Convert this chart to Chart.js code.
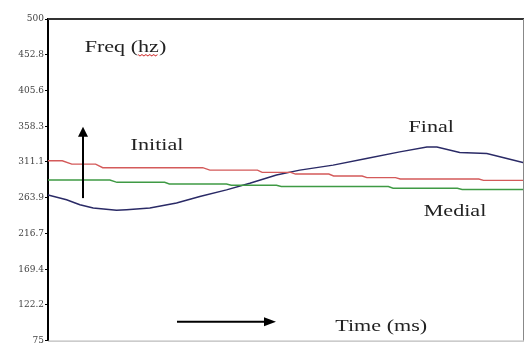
<!DOCTYPE html>
<html>
<head>
<meta charset="utf-8">
<script src="https://cdn.jsdelivr.net/npm/chart.js@4/dist/chart.umd.min.js"></script>
<style>
  html, body { margin: 0; padding: 0; background: #fff; }
  #wrap { width: 526px; height: 347px; }
</style>
</head>
<body>
<div id="wrap"><canvas id="c" width="526" height="347"></canvas></div>
<script>
// Pitch contours (Hz) over normalised time (ms)
const tickValues = [75, 122.2, 169.4, 216.7, 263.9, 311.1, 358.3, 405.6, 452.8, 500];
const tickLabels = ['75', '122.2', '169.4', '216.7', '263.9', '311.1', '358.3', '405.6', '452.8', '500'];

const initialTime = [0, 3, 5, 10, 11.5, 32.5, 34, 44, 45, 51, 52, 59, 60, 66, 67, 73, 74, 90.5, 91.5, 100];
const initialHz   = [312.6, 312.6, 308.2, 308.2, 303.5, 303.5, 300.3, 300.3, 297.3, 297.3, 295.1, 295.1, 292.5, 292.5, 290.4, 290.4, 288.5, 288.5, 286.8, 286.8];

const medialTime = [0, 13, 14.5, 24.5, 25.5, 37.5, 38.5, 48, 49, 71.5, 72.5, 86, 87, 100];
const medialHz   = [287.2, 287.2, 284.2, 284.2, 282.0, 282.0, 280.3, 280.3, 278.6, 278.6, 276.4, 276.4, 274.7, 274.7];

const finalTime = [0, 3.9, 6.7, 9.5, 14.4, 16.5, 21.4, 27.0, 31.9, 37.5, 42.4, 48.0, 52.9, 59.9, 66.9, 73.9, 79.6, 81.7, 86.5, 92.2, 96.4, 100];
const finalHz   = [267.6, 261.1, 254.5, 250.2, 247.2, 248.0, 250.2, 256.8, 265.5, 274.2, 282.9, 293.8, 300.3, 306.9, 315.6, 324.4, 330.9, 330.9, 323.5, 322.2, 315.6, 310.0];

// Text labels and arrows placed in data coordinates
const notes = [
  { text: 'Freq (hz)', t: 7.7, hz: 462, align: 'left' },
  { text: 'Initial',   t: 22.9, hz: 333, align: 'center' },
  { text: 'Final',     t: 80.5, hz: 357, align: 'center' },
  { text: 'Medial',    t: 85.5, hz: 245, align: 'center' },
  { text: 'Time (ms)', t: 70, hz: 94, align: 'center' }
];
const upArrow = { t: 7.35, from: 263.3, to: 357.5 };
const rightArrow = { hz: 100, from: 27.1, to: 47.9 };

const pts = (xs, ys) => xs.map((x, i) => ({ x: x, y: ys[i] }));

const frame = {
  id: 'frame',
  afterDatasetsDraw(chart) {
    const { ctx, chartArea: a, scales } = chart;
    const xs = scales.x, ys = scales.y;
    ctx.save();
    // plot frame: heavy top, light right and bottom
    ctx.strokeStyle = '#333';
    ctx.lineWidth = 2;
    ctx.beginPath(); ctx.moveTo(a.left, a.top); ctx.lineTo(a.right, a.top); ctx.stroke();
    ctx.strokeStyle = '#888';
    ctx.lineWidth = 1;
    ctx.beginPath(); ctx.moveTo(a.right - 0.5, a.top); ctx.lineTo(a.right - 0.5, a.bottom); ctx.stroke();
    ctx.strokeStyle = '#aaa';
    ctx.beginPath(); ctx.moveTo(a.left, a.bottom + 0.5); ctx.lineTo(a.right, a.bottom + 0.5); ctx.stroke();

    // annotations
    ctx.fillStyle = '#222';
    ctx.font = '17px "Liberation Serif", serif';
    ctx.textBaseline = 'middle';
    notes.forEach(n => {
      const px = xs.getPixelForValue(n.t), py = ys.getPixelForValue(n.hz);
      const w = ctx.measureText(n.text).width * 1.3;
      const left = n.align === 'center' ? px - w / 2 : px;
      ctx.save();
      ctx.translate(left, py);
      ctx.scale(1.3, 1);
      ctx.textAlign = 'left';
      ctx.fillText(n.text, 0, 0);
      // wavy spell-check underline under "hz"
      if (n.text === 'Freq (hz)') {
        const start = ctx.measureText('Freq (').width;
        const end = ctx.measureText('Freq (hz').width;
        ctx.strokeStyle = '#d03030';
        ctx.lineWidth = 0.8;
        ctx.beginPath();
        for (let x = start, k = 0; x <= end; x += 1.5, k++) {
          const yy = 7 + (k % 2 ? 1.2 : -0.2);
          if (k === 0) ctx.moveTo(x, yy); else ctx.lineTo(x, yy);
        }
        ctx.stroke();
      }
      ctx.restore();
    });

    // arrows
    ctx.strokeStyle = '#000';
    ctx.fillStyle = '#000';
    ctx.lineWidth = 2;
    const ux = xs.getPixelForValue(upArrow.t);
    const uy0 = ys.getPixelForValue(upArrow.from), uy1 = ys.getPixelForValue(upArrow.to);
    ctx.beginPath(); ctx.moveTo(ux, uy0); ctx.lineTo(ux, uy1 + 8); ctx.stroke();
    ctx.beginPath(); ctx.moveTo(ux, uy1); ctx.lineTo(ux - 5, uy1 + 10); ctx.lineTo(ux + 5, uy1 + 10); ctx.closePath(); ctx.fill();
    const ry = ys.getPixelForValue(rightArrow.hz);
    const rx0 = xs.getPixelForValue(rightArrow.from), rx1 = xs.getPixelForValue(rightArrow.to);
    ctx.beginPath(); ctx.moveTo(rx0, ry); ctx.lineTo(rx1 - 8, ry); ctx.stroke();
    ctx.beginPath(); ctx.moveTo(rx1, ry); ctx.lineTo(rx1 - 12, ry - 4.5); ctx.lineTo(rx1 - 12, ry + 4.5); ctx.closePath(); ctx.fill();
    ctx.restore();
  }
};

new Chart(document.getElementById('c'), {
  type: 'line',
  data: {
    datasets: [
      { label: 'Initial', data: pts(initialTime, initialHz), borderColor: '#d45a5a', borderWidth: 1.4 },
      { label: 'Medial',  data: pts(medialTime, medialHz),   borderColor: '#3f9a44', borderWidth: 1.4 },
      { label: 'Final',   data: pts(finalTime, finalHz),     borderColor: '#2a2a66', borderWidth: 1.5 }
    ]
  },
  options: {
    responsive: false,
    animation: false,
    events: [],
    layout: { padding: { left: 0, top: 19, right: 2, bottom: 3 } },
    elements: { point: { radius: 0 }, line: { tension: 0 } },
    plugins: { legend: { display: false }, tooltip: { enabled: false } },
    scales: {
      x: { type: 'linear', min: 0, max: 100, display: false },
      y: {
        type: 'linear', min: 75, max: 500,
        afterBuildTicks(scale) { scale.ticks = tickValues.map(v => ({ value: v })); },
        afterFit(scale) { scale.width = 48; },
        grid: { drawOnChartArea: false, drawTicks: true, tickLength: 3, color: '#000', lineWidth: 1 },
        border: { display: true, color: '#000', width: 2 },
        ticks: {
          padding: 1,
          color: '#444',
          font: { family: '"DejaVu Serif", serif', size: 9 },
          callback: (v, i) => tickLabels[i]
        }
      }
    }
  },
  plugins: [frame]
});
</script>
</body>
</html>
